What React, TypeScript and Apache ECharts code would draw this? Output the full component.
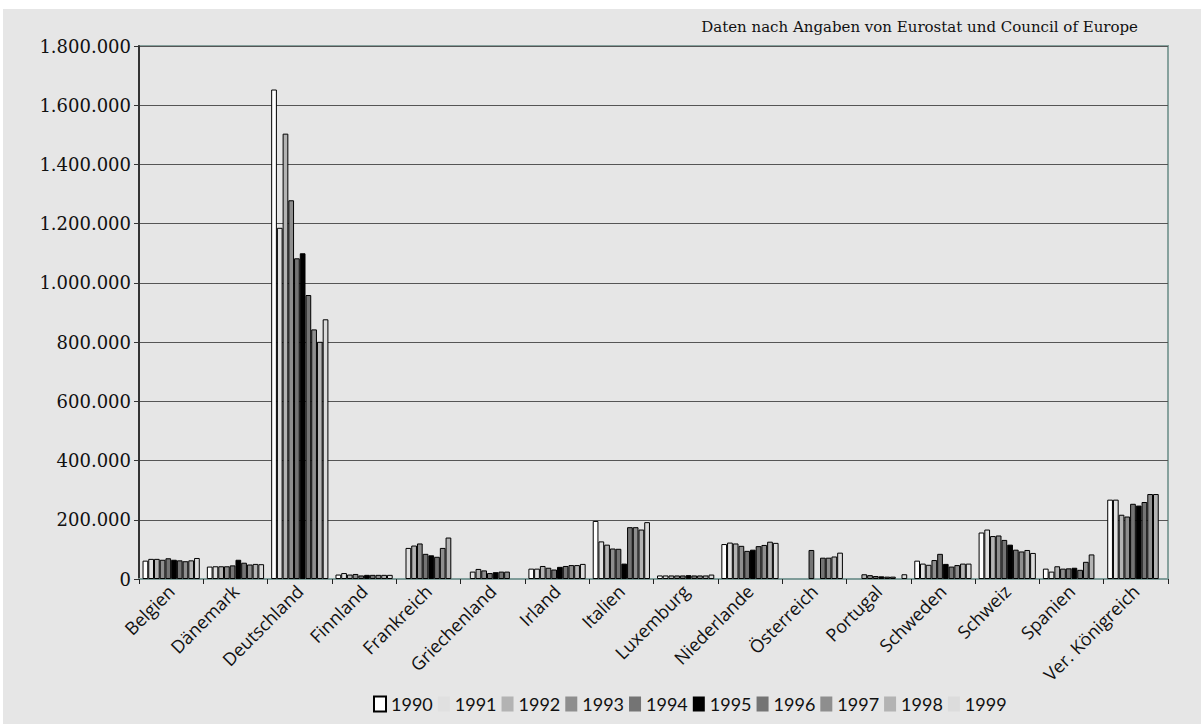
import React, { useEffect, useRef } from "react";
import * as echarts from "echarts";

const categories = ["Belgien", "Dänemark", "Deutschland", "Finnland", "Frankreich", "Griechenland", "Irland", "Italien", "Luxemburg", "Niederlande", "Österreich", "Portugal", "Schweden", "Schweiz", "Spanien", "Ver. Königreich"];
const years = ["1990", "1991", "1992", "1993", "1994", "1995", "1996", "1997", "1998", "1999"];

const y1990 = [62000, 42000, 1653000, 15000, null, null, 35000, 196000, 12000, 118000, null, null, 62000, 157000, 35000, 268000];
const y1991 = [68000, 43000, 1186000, 20000, 105000, 25000, 35000, 127000, 12000, 123000, null, null, 52000, 167000, 25000, 268000];
const y1992 = [68000, 43000, 1504000, 15000, 113000, 34000, 44000, 116000, 12000, 120000, null, 16000, 48000, 145000, 43000, 217000];
const y1993 = [65000, 43000, 1279000, 17000, 120000, 29000, 38000, 103000, 12000, 112000, null, 13000, 64000, 147000, 35000, 211000];
const y1994 = [70000, 46000, 1083000, 12000, 85000, 20000, 32000, 102000, 12000, 95000, 98000, 10000, 85000, 132000, 36000, 254000];
const y1995 = [65000, 65000, 1100000, 14000, 80000, 23000, 41000, 52000, 13000, 99000, null, 9000, 51000, 116000, 38000, 248000];
const y1996 = [63000, 55000, 959000, 14000, 75000, 25000, 44000, 175000, 12000, 111000, 72000, 8000, 42000, 99000, 31000, 260000];
const y1997 = [60000, 49000, 843000, 14000, 105000, 25000, 47000, 175000, 12000, 115000, 72000, 8000, 47000, 93000, 58000, 287000];
const y1998 = [63000, 51000, 801000, 14000, 140000, null, 47000, 167000, 12000, 126000, 76000, null, 52000, 98000, 83000, 287000];
const y1999 = [71000, 50000, 877000, 14000, null, null, 51000, 192000, 15000, 122000, 89000, 16000, 52000, 88000, null, null];

const seriesValues = [y1990, y1991, y1992, y1993, y1994, y1995, y1996, y1997, y1998, y1999];
const colors = ["#ffffff", "#e0e0e0", "#b3b3b3", "#8e8e8e", "#747474", "#000000", "#747474", "#8e8e8e", "#b3b3b3", "#dcdcdc"];

const sourceNote = "Daten nach Angaben von Eurostat und Council of Europe";

function fmt(v: number): string {
  return String(v).replace(/\B(?=(\d{3})+(?!\d))/g, ".");
}

export default function App() {
  const ref = useRef<HTMLDivElement>(null);
  useEffect(() => {
    if (!ref.current) return;
    const chart = echarts.init(ref.current, undefined, { renderer: "svg" });
    const option: any = {
      animation: false,
      backgroundColor: "#e6e6e6",
      graphic: [
        { type: "rect", left: 0, top: 0, shape: { width: 1201, height: 9 }, style: { fill: "#ffffff" }, silent: true },
        { type: "rect", left: 0, top: 0, shape: { width: 3, height: 724 }, style: { fill: "#ffffff" }, silent: true },
        {
          type: "text",
          right: 63,
          top: 19,
          style: { text: sourceNote, font: '15px "DejaVu Serif"', fill: "#111", textAlign: "right" },
        },
      ],
      grid: {
        left: 139,
        right: 33,
        top: 46,
        bottom: 145,
        show: true,
        borderColor: "#86a19d",
        borderWidth: 2,
        backgroundColor: "transparent",
      },
      legend: {
        left: 368,
        top: 690,
        itemWidth: 12,
        itemHeight: 15,
        itemGap: 5,
        icon: "rect",
        textStyle: { fontFamily: "Lato", fontSize: 18, color: "#111" },
        data: years.map((y, i) => ({
          name: y,
          itemStyle: i === 0 ? { borderColor: "#000", borderWidth: 2 } : { borderWidth: 0 },
        })),
      },
      xAxis: {
        type: "category",
        data: categories,
        axisLine: { lineStyle: { color: "#7f9c99", width: 2 } },
        axisTick: { show: true, length: 5, lineStyle: { color: "#222", width: 1 } },
        axisLabel: {
          rotate: 45,
          interval: 0,
          margin: 9,
          fontFamily: "Open Sans",
          fontSize: 18,
          color: "#111",
        },
      },
      yAxis: {
        type: "value",
        min: 0,
        max: 1800000,
        interval: 200000,
        axisLine: { show: true, lineStyle: { color: "#333", width: 2 } },
        axisTick: { show: true, length: 5, lineStyle: { color: "#333", width: 1 } },
        axisLabel: {
          margin: 8,
          fontFamily: "DejaVu Serif",
          fontSize: 18,
          color: "#111",
          formatter: (v: number) => fmt(v),
        },
        splitLine: { show: true, lineStyle: { color: "#555", width: 1 } },
      },
      series: years.map((y, i) => ({
        name: y,
        type: "bar",
        data: seriesValues[i],
        barGap: "0%",
        barCategoryGap: "11%",
        itemStyle: { color: colors[i], borderColor: "#000", borderWidth: 1 },
      })),
    };
    chart.setOption(option);
    return () => chart.dispose();
  }, []);
  return <div ref={ref} style={{ position: "absolute", left: 0, top: 0, width: 1201, height: 724 }} />;
}
